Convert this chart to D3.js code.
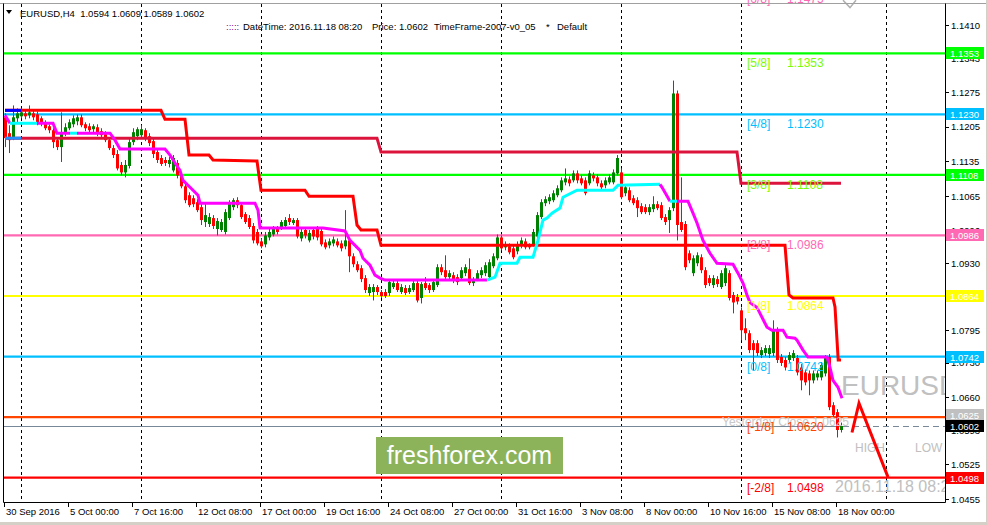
<!DOCTYPE html>
<html><head><meta charset="utf-8">
<script src="https://cdn.jsdelivr.net/npm/d3@7"></script>
<style>
html,body{margin:0;padding:0;background:#fff;}
svg{display:block;font-family:"Liberation Sans",Arial,sans-serif;}
</style>
</head><body>
<svg id="c" width="987" height="525"></svg>
<script>
// ---------------- DATA ----------------
const opens=[
1.1224,1.1192,1.1184,1.1222,1.1226,1.1232,1.1228,1.1232,1.1230,1.1222,
1.1212,1.1206,1.1198,1.1178,1.1164,1.1192,1.1202,1.1210,1.1216,1.1224,
1.1210,1.1206,1.1200,1.1204,1.1196,1.1190,1.1178,1.1162,1.1150,1.1128,
1.1113,1.1126,1.1174,1.1186,1.1188,1.1198,1.1186,1.1176,1.1154,1.1142,
1.1138,1.1130,1.1117,1.1132,1.1107,1.1085,1.1067,1.1061,1.1053,1.1043,
1.1013,1.1009,1.1021,1.0999,1.0997,1.0993,1.1021,1.1043,1.1057,1.1047,
1.1029,1.1021,1.1005,1.0993,1.0974,1.0968,1.0982,1.0988,1.0999,1.1001,
1.1005,1.1021,1.1011,1.1017,1.0980,1.0997,1.0976,1.0997,1.0999,1.0995,
1.0972,1.0966,1.0970,1.0974,1.0970,1.0964,1.0976,1.0944,1.0928,1.0920,
1.0900,1.0870,1.0872,1.0882,1.0872,1.0872,1.0870,1.0882,1.0890,1.0872,
1.0880,1.0872,1.0876,1.0890,1.0860,1.0890,1.0886,1.0876,1.0886,1.0922,
1.0916,1.0902,1.0906,1.0902,1.0900,1.0910,1.0918,1.0890,1.0898,1.0906,
1.0910,1.0902,1.0924,1.0940,1.0982,1.0962,1.0964,1.0960,1.0954,1.0966,
1.0974,1.0966,1.0968,1.0984,1.1023,1.1051,1.1055,1.1057,1.1067,1.1077,
1.1093,1.1099,1.1097,1.1111,1.1101,1.1097,1.1091,1.1107,1.1103,1.1091,
1.1087,1.1093,1.1093,1.1111,1.1113,1.1071,1.1077,1.1061,1.1057,1.1045,
1.1043,1.1033,1.1039,1.1049,1.1047,1.1023,1.1017,1.1041,1.1272,1.1013,
1.1009,1.0950,1.0910,1.0930,1.0942,1.0916,1.0900,1.0886,1.0898,1.0882,
1.0890,1.0910,1.0866,1.0862,1.0835,1.0799,1.0789,1.0769,1.0769,1.0745,
1.0749,1.0747,1.0749,1.0795,1.0741,1.0735,1.0735,1.0739,1.0739,1.0720,
1.0710,1.0708,1.0694,1.0700,1.0700,1.0708,1.0741,1.0644,1.0630,1.0594];
const highs=[
1.1232,1.1208,1.1248,1.1242,1.1242,1.1238,1.1248,1.1238,1.1236,1.1226,
1.1218,1.1210,1.1202,1.1184,1.1234,1.1212,1.1220,1.1228,1.1230,1.1230,
1.1214,1.1212,1.1210,1.1210,1.1202,1.1196,1.1184,1.1168,1.1158,1.1134,
1.1138,1.1182,1.1202,1.1204,1.1208,1.1202,1.1192,1.1182,1.1158,1.1148,
1.1144,1.1144,1.1148,1.1138,1.1113,1.1091,1.1073,1.1067,1.1059,1.1049,
1.1051,1.1031,1.1027,1.1021,1.1019,1.1039,1.1057,1.1061,1.1063,1.1053,
1.1033,1.1027,1.1011,1.0999,1.0980,1.0993,1.0999,1.1005,1.1005,1.1017,
1.1023,1.1029,1.1021,1.1021,1.0999,1.1001,1.0997,1.1003,1.1005,1.1001,
1.0978,1.0980,1.0984,1.0980,1.0976,1.1037,1.0982,1.0950,1.0934,1.0926,
1.0906,1.0888,1.0888,1.0886,1.0876,1.0878,1.0898,1.0896,1.0896,1.0888,
1.0886,1.0886,1.0896,1.0896,1.0892,1.0902,1.0890,1.0898,1.0928,1.0928,
1.0946,1.0916,1.0912,1.0908,1.0922,1.0928,1.0940,1.0902,1.0916,1.0922,
1.0932,1.0938,1.0950,1.0988,1.0986,1.0974,1.0970,1.0966,1.0974,1.0982,
1.0980,1.0970,1.0999,1.1033,1.1059,1.1065,1.1069,1.1077,1.1087,1.1103,
1.1121,1.1105,1.1117,1.1117,1.1107,1.1103,1.1117,1.1113,1.1109,1.1097,
1.1103,1.1109,1.1119,1.1148,1.1121,1.1089,1.1083,1.1067,1.1063,1.1051,
1.1049,1.1049,1.1065,1.1055,1.1053,1.1029,1.1043,1.1298,1.1278,1.1103,
1.1015,1.0956,1.0946,1.0952,1.0948,1.0922,1.0906,1.0906,1.0904,1.0916,
1.0926,1.0916,1.0872,1.0868,1.0841,1.0819,1.0795,1.0775,1.0775,1.0761,
1.0765,1.0765,1.0815,1.0801,1.0747,1.0741,1.0751,1.0755,1.0745,1.0727,
1.0716,1.0714,1.0714,1.0714,1.0731,1.0745,1.0747,1.0650,1.0636,1.0609];
const lows=[
1.1164,1.1152,1.1178,1.1214,1.1222,1.1220,1.1222,1.1218,1.1208,1.1206,
1.1198,1.1192,1.1162,1.1158,1.1134,1.1186,1.1198,1.1204,1.1208,1.1204,
1.1196,1.1192,1.1194,1.1186,1.1182,1.1174,1.1158,1.1142,1.1117,1.1107,
1.1103,1.1121,1.1168,1.1178,1.1182,1.1176,1.1166,1.1142,1.1132,1.1126,
1.1126,1.1123,1.1113,1.1101,1.1081,1.1051,1.1043,1.1043,1.1033,1.1007,
1.1003,1.1003,1.0999,1.0986,1.0993,1.0988,1.1017,1.1037,1.1041,1.1019,
1.1009,1.0999,1.0970,1.0966,1.0960,1.0962,1.0976,1.0984,1.0988,1.0997,
1.1001,1.1007,1.1007,1.0980,1.0974,1.0980,1.0972,1.0978,1.0976,1.0964,
1.0958,1.0960,1.0964,1.0962,1.0954,1.0958,1.0912,1.0922,1.0912,1.0892,
1.0870,1.0864,1.0855,1.0866,1.0860,1.0860,1.0864,1.0878,1.0872,1.0868,
1.0866,1.0868,1.0872,1.0851,1.0849,1.0876,1.0870,1.0872,1.0882,1.0906,
1.0898,1.0896,1.0890,1.0886,1.0896,1.0904,1.0886,1.0884,1.0894,1.0900,
1.0904,1.0898,1.0920,1.0936,1.0956,1.0956,1.0948,1.0938,1.0948,1.0960,
1.0958,1.0958,1.0964,1.0980,1.1019,1.1045,1.1049,1.1053,1.1063,1.1073,
1.1087,1.1085,1.1093,1.1091,1.1087,1.1067,1.1087,1.1095,1.1085,1.1077,
1.1081,1.1089,1.1089,1.1107,1.1059,1.1065,1.1053,1.1047,1.1023,1.1029,
1.1029,1.1027,1.1033,1.1037,1.1017,1.1007,1.0991,1.1035,1.0976,1.0993,
1.0916,1.0930,1.0904,1.0924,1.0910,1.0880,1.0884,1.0880,1.0882,1.0878,
1.0884,1.0855,1.0829,1.0847,1.0775,1.0775,1.0749,1.0714,1.0743,1.0739,
1.0743,1.0739,1.0743,1.0729,1.0723,1.0714,1.0729,1.0733,1.0704,1.0674,
1.0684,1.0664,1.0688,1.0694,1.0694,1.0702,1.0634,1.0618,1.0579,1.0589];
const closes=[
1.1182,1.1178,1.1224,1.1232,1.1234,1.1226,1.1234,1.1224,1.1214,1.1212,
1.1202,1.1198,1.1174,1.1164,1.1192,1.1204,1.1214,1.1222,1.1224,1.1208,
1.1202,1.1198,1.1206,1.1194,1.1188,1.1178,1.1162,1.1148,1.1121,1.1113,
1.1128,1.1174,1.1194,1.1200,1.1200,1.1182,1.1172,1.1150,1.1138,1.1130,
1.1132,1.1138,1.1142,1.1107,1.1085,1.1057,1.1047,1.1049,1.1037,1.1017,
1.1027,1.1023,1.1005,1.1015,1.1013,1.1033,1.1051,1.1057,1.1047,1.1023,
1.1013,1.1003,1.0976,1.0970,1.0964,1.0986,1.0993,1.0999,1.0993,1.1013,
1.1017,1.1013,1.1017,1.0984,1.0993,1.0986,1.0991,1.0984,1.0982,1.0968,
1.0962,1.0974,1.0978,1.0966,1.0960,1.0976,1.0944,1.0928,1.0916,1.0898,
1.0876,1.0882,1.0882,1.0872,1.0864,1.0864,1.0892,1.0890,1.0876,1.0882,
1.0870,1.0880,1.0890,1.0855,1.0888,1.0880,1.0876,1.0892,1.0922,1.0912,
1.0902,1.0910,1.0896,1.0892,1.0916,1.0922,1.0890,1.0896,1.0910,1.0916,
1.0926,1.0932,1.0944,1.0982,1.0960,1.0968,1.0952,1.0942,1.0968,1.0976,
1.0962,1.0962,1.0993,1.1027,1.1053,1.1059,1.1063,1.1071,1.1081,1.1097,
1.1101,1.1091,1.1111,1.1097,1.1091,1.1071,1.1111,1.1101,1.1091,1.1083,
1.1097,1.1103,1.1113,1.1142,1.1063,1.1083,1.1057,1.1051,1.1041,1.1033,
1.1033,1.1043,1.1049,1.1041,1.1021,1.1013,1.1037,1.1272,1.1007,1.0997,
1.0922,1.0936,1.0940,1.0946,1.0916,1.0886,1.0890,1.0900,1.0888,1.0910,
1.0920,1.0860,1.0851,1.0853,1.0795,1.0789,1.0755,1.0755,1.0749,1.0755,
1.0759,1.0759,1.0795,1.0735,1.0729,1.0720,1.0745,1.0749,1.0710,1.0694,
1.0690,1.0694,1.0708,1.0708,1.0725,1.0739,1.0640,1.0624,1.0594,1.0602];

// Stepped indicator lines: [bar, price]
const redStepLine=[[0,1.1238],[39,1.1238],[40,1.1220],[45,1.1220],[46,1.1148],[51,1.1148],[52,1.1138],[63,1.1136],[64,1.1077],[75,1.1077],[76,1.1065],[87,1.1065],[88,1.1007],[89,1.0997],[93,1.0997],[94,1.0966],[195,1.0966],[196,1.0866],[197,1.0860],[207,1.0860],[207.5,1.0842],[208,1.0775],[208.3,1.0735],[209,1.0735]];
const crimsonStepLine=[[0,1.1182],[93,1.1182],[94,1.1154],[183,1.1154],[184,1.1091],[209,1.1091]];
const stepLeadBars=4;

// Trailing line (magenta = down, cyan = up)
const trailBars=[0,1.25,8,12,13,16.25,18,26.25,27.5,28.75,40,41.25,42.5,43.75,44.5,46.25,48.25,48.75,62.5,63.25,63.75,79.5,85,86.25,88.75,89.5,91.25,92.5,93.75,95,
120.5,122.5,123.75,128,128.75,132,133.25,134.5,135.5,136.75,138.75,139.5,143,152,153.25,163.75,164.25,166.25,168,170.75,172,173,174.5,176.25,178,182,183.25,184.5,185.5,186.25,
188,190.5,191.75,194.5,195.5,197.5,198,199.5,200.75,205.5,206.25,207,208.25,209.25];
const trailValues=[1.1228,1.1212,1.1212,1.1212,1.1192,1.1192,1.1192,1.1192,1.1178,1.1160,1.1160,1.1148,1.1132,1.1117,1.1097,1.1083,1.1067,1.1051,1.1051,1.1037,1.1001,1.1001,1.0995,1.0976,1.0956,1.0940,1.0926,1.0906,1.0900,1.0896,
1.0896,1.0902,1.0930,1.0930,1.0942,1.0942,1.0976,1.1017,1.1021,1.1031,1.1041,1.1063,1.1077,1.1077,1.1087,1.1089,1.1083,1.1055,1.1055,1.1055,1.1031,1.1011,1.0976,1.0950,1.0930,1.0928,1.0910,1.0890,1.0866,1.0851,
1.0841,1.0801,1.0795,1.0795,1.0781,1.0779,1.0775,1.0755,1.0741,1.0741,1.0720,1.0694,1.0680,1.0658];
const trailTrend=["m","c","m","m","m","c","m","m","m","m","m","m","m","m","m","m","m","m","m","m","m","m","m","m","m","m","m","m","m","m",
"c","c","c","c","c","c","c","c","c","c","c","c","c","c","c","m","m","c","m","m","m","m","m","m","m","m","m","m","m","m",
"m","m","m","m","m","m","m","m","m","m","m","m","m","m"];

// Murrey levels
const levelNames=["[6/8]","[5/8]","[4/8]","[3/8]","[2/8]","[1/8]","[0/8]","[-1/8]","[-2/8]"];
const levelPrices=[1.1475,1.1353,1.1230,1.1108,1.0986,1.0864,1.0742,1.0620,1.0498];
const levelColors=["#ff69b4","#00ff00","#00bfff","#00ff00","#ff69b4","#ffff00","#00bfff","#ff4500","#ff0000"];
const levelTextColors=["#ff69b4","#7cfc00","#00bfff","#7cfc00","#ff69b4","#ffff00","#00bfff","#ff4500","#ff0000"];

// Right-axis price boxes
const boxPrices=[1.1353,1.1230,1.1108,1.0986,1.0864,1.0742,1.0625,1.0602,1.0498];
const boxColors=["#00ff00","#00bfff","#00ff00","#ff69b4","#ffff00","#00bfff","#c0c0c0","#000000","#ff0000"];

// Axes
const priceTicks=[1.1410,1.1343,1.1275,1.1205,1.1135,1.1065,1.0996,1.0930,1.0864,1.0795,1.0730,1.0660,1.0593,1.0525,1.0455];
const timeTickBars=[0,16,32,48,64,80,96,112,128,144,160,176,192,208];
const timeTickLabels=["30 Sep 2016","5 Oct 00:00","7 Oct 16:00","12 Oct 08:00","17 Oct 00:00","19 Oct 16:00","24 Oct 08:00","27 Oct 00:00","31 Oct 16:00","3 Nov 08:00","8 Nov 00:00","10 Nov 16:00","15 Nov 08:00","18 Nov 00:00"];
const gridBars=[4,34,64,94,124,154,184,220.25];

const currentPrice=1.0602;
const arrowBars=[211.75,213.5,220.75];
const arrowValues=[1.0589,1.0648,1.0499];
const topMarkBars=[209.5,211.25,212.75];
const topMarkValues=[1.1460,1.1445,1.1460];

// ---------------- DRAW ----------------
const W=987,H=525,PL=4,PR=945,PT=4,PB=502;
const svg=d3.select("#c");
const x=d3.scaleLinear().domain([0,209]).range([5,841]);
const y=d3.scaleLinear().domain([1.0455,1.1410]).range([499,25]);

svg.append("rect").attr("width",W).attr("height",H).attr("fill","#fff");
svg.append("rect").attr("x",986).attr("y",0).attr("width",1).attr("height",H).attr("fill","#d4d0c8");
svg.append("rect").attr("x",0).attr("y",522).attr("width",W).attr("height",3).attr("fill","#d4d0c8");

svg.append("defs").append("clipPath").attr("id","plot")
  .append("rect").attr("x",PL).attr("y",PT).attr("width",PR-PL).attr("height",PB-PT);
svg.append("clipPath").attr("id","plot2")
  .append("rect").attr("x",PL).attr("y",0).attr("width",PR-PL).attr("height",PB);
const g=svg.append("g").attr("clip-path","url(#plot)");

// grid
g.selectAll("line.grid").data(gridBars).join("line").attr("class","grid")
  .attr("x1",d=>Math.round(x(d))+0.5).attr("x2",d=>Math.round(x(d))+0.5)
  .attr("y1",PT).attr("y2",PB).attr("stroke","#000").attr("stroke-dasharray","3,3");

// levels
g.selectAll("line.lvl").data(levelPrices).join("line").attr("class","lvl")
  .attr("x1",PL).attr("x2",PR).attr("y1",d=>y(d)).attr("y2",d=>y(d))
  .attr("stroke",(d,i)=>levelColors[i]).attr("stroke-width",2.2);

// current price line
const cy=Math.round(y(currentPrice))+0.5;
g.append("line").attr("x1",PL).attr("x2",x(209)+2).attr("y1",cy).attr("y2",cy).attr("stroke","#778899");
g.append("line").attr("x1",x(209)+2).attr("x2",PR).attr("y1",cy).attr("y2",cy).attr("stroke","#778899").attr("stroke-dasharray","6,4");

// level texts
const tg=svg.append("g").attr("clip-path","url(#plot2)");
tg.append("text").attr("x",722).attr("y",y(1.0625)+11).attr("font-size",12).attr("fill","#c8c8c8").text("Yesterday Close 1.0625");
levelPrices.forEach((p,i)=>{
  const off = i===0 ? 10 : 14;
  tg.append("text").attr("x",747).attr("y",y(p)+off).attr("font-size",12).attr("fill",levelTextColors[i]).text(levelNames[i]);
  tg.append("text").attr("x",787).attr("y",y(p)+off).attr("font-size",12).attr("fill",levelTextColors[i]).text(p.toFixed(4));
});
tg.append("path").attr("d",d3.line().x(d=>x(d[0])).y(d=>y(d[1]))(topMarkBars.map((b,i)=>[b,topMarkValues[i]])))
  .attr("fill","none").attr("stroke","#b0b0b0").attr("stroke-width",1.5);

// gray annotations
g.append("text").attr("x",841).attr("y",395).attr("font-size",28).attr("fill","#c0c0c0").text("EURUSD");
g.append("text").attr("x",855).attr("y",452).attr("font-size",12).attr("fill","#c0c0c0").text("HIGH");
g.append("text").attr("x",915).attr("y",452).attr("font-size",12).attr("fill","#c0c0c0").text("LOW");
g.append("text").attr("x",835).attr("y",492).attr("font-size",16).attr("fill","#c0c0c0").text("2016.11.18 08:20");

// logo
g.append("rect").attr("x",376).attr("y",437).attr("width",187).attr("height",37).attr("fill","#8db35a");
g.append("text").attr("x",469.5).attr("y",464).attr("text-anchor","middle").attr("font-size",25).attr("fill","#fff").text("freshforex.com");

// candles
const idx=d3.range(opens.length);
const cg=g.append("g");
cg.selectAll("line.wick").data(idx).join("line").attr("class","wick")
  .attr("x1",i=>Math.round(x(i))+0.5).attr("x2",i=>Math.round(x(i))+0.5)
  .attr("y1",i=>y(highs[i])).attr("y2",i=>y(lows[i]))
  .attr("stroke",i=>closes[i]>=opens[i]?"#008000":"#ff0000");
cg.selectAll("rect.body").data(idx).join("rect").attr("class","body")
  .attr("x",i=>Math.round(x(i))-1).attr("width",3)
  .attr("y",i=>y(Math.max(opens[i],closes[i])))
  .attr("height",i=>Math.max(1,Math.abs(y(opens[i])-y(closes[i]))))
  .attr("fill",i=>closes[i]>=opens[i]?"#008000":"#ff0000");

// stepped lines
const ln=d3.line().x(d=>x(d[0])).y(d=>y(d[1]));
g.append("path").attr("d",ln(crimsonStepLine)).attr("fill","none").attr("stroke","#dc143c").attr("stroke-width",3);
g.append("path").attr("d",ln([[0,crimsonStepLine[0][1]],[stepLeadBars,crimsonStepLine[0][1]]])).attr("fill","none").attr("stroke","#1e90ff").attr("stroke-width",3);
g.append("path").attr("d",ln(redStepLine)).attr("fill","none").attr("stroke","#ff0000").attr("stroke-width",3);
g.append("path").attr("d",ln([[0,redStepLine[0][1]],[stepLeadBars,redStepLine[0][1]]])).attr("fill","none").attr("stroke","#0000ff").attr("stroke-width",3);

// trailing line
const runs=[];let cur=null;
for(let i=0;i<trailBars.length-1;i++){
  const col=trailTrend[i];
  if(!cur||cur.col!==col){cur={col,pts:[[trailBars[i],trailValues[i]]]};runs.push(cur);}
  cur.pts.push([trailBars[i+1],trailValues[i+1]]);
}
g.selectAll("path.trail").data(runs).join("path").attr("class","trail")
  .attr("d",d=>ln(d.pts)).attr("fill","none")
  .attr("stroke",d=>d.col==="m"?"#ff00ff":"#00ffff").attr("stroke-width",3);

// red arrow
g.append("path").attr("d",ln(arrowBars.map((b,i)=>[b,arrowValues[i]]))).attr("fill","none").attr("stroke","#ff0000").attr("stroke-width",3);

// header
svg.append("path").attr("d","M6,10L12,10L9,14Z").attr("fill","#000");
svg.append("text").attr("x",20).attr("y",16.5).attr("font-size",9.5).attr("fill","#000").attr("xml:space","preserve")
  .text("EURUSD,H4  1.0594 1.0609 1.0589 1.0602");
svg.append("text").attr("x",226).attr("y",29.5).attr("font-size",9.5).attr("fill","#800080").text(":::::");
svg.append("text").attr("x",243).attr("y",29.5).attr("font-size",9.5).attr("fill","#000").text("DateTime: 2016.11.18 08:20");
svg.append("text").attr("x",372).attr("y",29.5).attr("font-size",9.5).attr("fill","#000").text("Price: 1.0602");
svg.append("text").attr("x",434).attr("y",29.5).attr("font-size",9.5).attr("fill","#000").text("TimeFrame-2007-v0_05");
svg.append("text").attr("x",546).attr("y",29.5).attr("font-size",9.5).attr("fill","#000").text("*");
svg.append("text").attr("x",557).attr("y",29.5).attr("font-size",9.5).attr("fill","#000").text("Default");

// frame / axes
svg.append("line").attr("x1",0).attr("x2",986).attr("y1",3.5).attr("y2",3.5).attr("stroke","#a0a0a0");
svg.append("line").attr("x1",3.5).attr("x2",3.5).attr("y1",3.5).attr("y2",PB+0.5).attr("stroke","#000");
svg.append("line").attr("x1",3.5).attr("x2",PR+0.5).attr("y1",PB+0.5).attr("y2",PB+0.5).attr("stroke","#000");
svg.append("line").attr("x1",PR+0.5).attr("x2",PR+0.5).attr("y1",3.5).attr("y2",PB+0.5).attr("stroke","#000");

const ax=svg.append("g");
ax.selectAll("line.pt").data(priceTicks).join("line").attr("class","pt")
  .attr("x1",PR).attr("x2",PR+4).attr("y1",d=>Math.round(y(d))+0.5).attr("y2",d=>Math.round(y(d))+0.5).attr("stroke","#000");
ax.selectAll("text.pt").data(priceTicks).join("text").attr("class","pt")
  .attr("x",951).attr("y",d=>y(d)+3.5).attr("font-size",9.5).attr("fill","#000").text(d=>d.toFixed(4));
ax.selectAll("line.tt").data(timeTickBars).join("line").attr("class","tt")
  .attr("x1",d=>Math.round(x(d))-0.5).attr("x2",d=>Math.round(x(d))-0.5).attr("y1",PB).attr("y2",PB+5).attr("stroke","#000");
ax.selectAll("text.tt").data(timeTickBars).join("text").attr("class","tt")
  .attr("x",d=>Math.round(x(d))+1).attr("y",515).attr("font-size",9.5).attr("fill","#000").text((d,i)=>timeTickLabels[i]);

// price boxes
const bx=svg.append("g");
boxPrices.forEach((p,i)=>{
  const yy=Math.round(y(p));
  bx.append("rect").attr("x",946).attr("y",yy-6).attr("width",38).attr("height",12).attr("fill",boxColors[i]);
  bx.append("text").attr("x",950).attr("y",yy+3.5).attr("font-size",9.5).attr("fill","#fff").text(p.toFixed(4));
});
</script>
</body></html>
